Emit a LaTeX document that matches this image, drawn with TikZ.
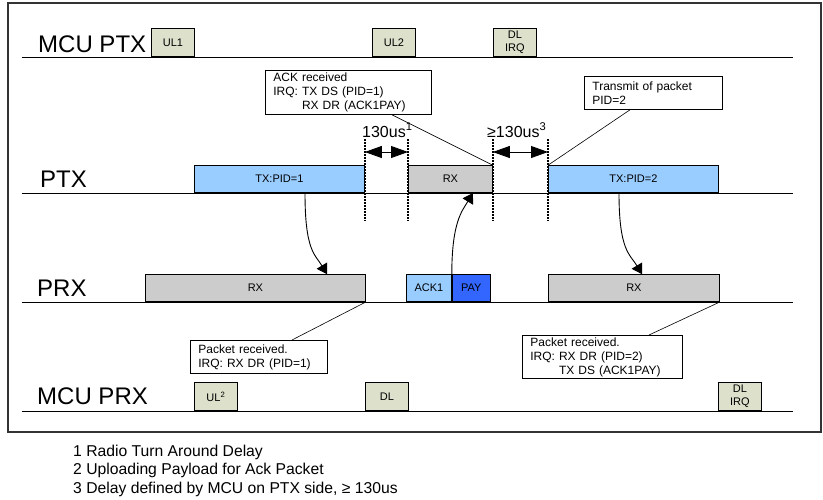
\documentclass[tikz,border=0pt]{standalone}
\usepackage{fontspec}
\setmainfont{Liberation Sans}
\usetikzlibrary{arrows.meta,calc}

\definecolor{mcubg}{RGB}{221,224,203}
\definecolor{txblue}{RGB}{153,204,255}
\definecolor{rxgray}{RGB}{204,204,204}
\definecolor{paybg}{RGB}{51,102,255}

\begin{document}
\begin{tikzpicture}[x=1pt, y=-1pt,
    every node/.style={font=\fontsize{11}{13}\selectfont},
    % Lane names on the left
    lanelabel/.style={font=\fontsize{24}{28}\selectfont, anchor=base west, inner sep=0pt},
    % Time axis of a lane
    lane/.style={line width=0.9pt},
    % Activity slot sitting on a lane
    slot/.style={draw, line width=0.8pt, anchor=south west, inner sep=0pt,
        minimum height=27pt, align=center},
    mcu/.style={slot, fill=mcubg, minimum width=43pt, minimum height=28pt},
    % Callout boxes
    callout/.style={draw, line width=0.8pt, fill=white, anchor=north west, align=left,
        inner xsep=8pt, inner ysep=0pt, font=\fontsize{12}{14}\selectfont},
    leader/.style={line width=0.6pt},
    % Dotted time markers and delay spans
    guide/.style={line width=2.2pt, dash pattern=on 2pt off 1pt},
    span/.style={{Triangle[length=17pt,width=12pt]}-{Triangle[length=17pt,width=12pt]}, line width=0.8pt},
    delay/.style={font=\fontsize{16}{18}\selectfont, anchor=base west, inner sep=0pt},
    % Radio packet flow
    flow/.style={-{Triangle[length=10pt,width=12pt]}, line width=0.9pt},
    note/.style={font=\fontsize{15.7}{18}\selectfont, anchor=base west, inner sep=0pt},
]
\useasboundingbox (0,0) rectangle (823,499);

% outer frame
\draw[line width=1.3pt, black!80] (8,3) rectangle (821,432);

% ============================================================
% MCU PTX
% ============================================================
\node[lanelabel] (lmcuptx) at (38,52) {MCU PTX};
\draw[lane] (22,57) -- (793,57);
\node[mcu] (ul1) at (151,57) {UL1};
\node[mcu] (ul2) at (372,57) {UL2};
\node[mcu] (dlirqt) at (493,57) {DL\\IRQ};

% ============================================================
% PTX
% ============================================================
\node[lanelabel] (lptx) at (40,187) {PTX};
\draw[lane] (22,193) -- (793,193);
\node[slot, fill=txblue, minimum width=170pt] (txa) at (194,193) {TX:PID=1};
\node[slot, fill=rxgray, minimum width=84pt] (rxt) at (408,193) {RX};
\node[slot, fill=txblue, minimum width=170pt] (txb) at (548,193) {TX:PID=2};

% ============================================================
% PRX
% ============================================================
\node[lanelabel] (lprx) at (37,296) {PRX};
\draw[lane] (22,302) -- (793,302);
\node[slot, fill=rxgray, minimum width=220pt] (rxa) at (145,302) {RX};
\node[slot, fill=txblue, minimum width=45pt] (ack) at (406,302) {ACK1};
\node[slot, fill=paybg, minimum width=38pt] (pay) at (ack.south east) {PAY};
\node[slot, fill=rxgray, minimum width=171pt] (rxb) at (548,302) {RX};

% ============================================================
% MCU PRX
% ============================================================
\node[lanelabel] (lmcuprx) at (37,404) {MCU PRX};
\draw[lane] (22,411) -- (793,411);
\node[mcu] (ulr) at (194,411) {UL\textsuperscript{2}};
\node[mcu] (dlr) at (365,411) {DL};
\node[mcu] (dlirqr) at (718,411) {DL\\IRQ};

% ============================================================
% Time markers and delays
% ============================================================
\foreach \g in {txa.south east, rxt.south west, rxt.south east, txb.south west}
    \draw[guide] (\g |- 0,139) -- (\g |- 0,221);

\coordinate (s1a) at (txa.south east |- 0,152);
\coordinate (s1b) at (rxt.south west |- 0,152);
\coordinate (s3a) at (rxt.south east |- 0,152);
\coordinate (s3b) at (txb.south west |- 0,152);
\draw[span] (s1a) -- (s1b);
\draw[span] (s3a) -- (s3b);

\node[delay] (d1) at (362,137) {130us\textsuperscript{1}};
\node[delay] (d3) at (487,137) {≥130us\textsuperscript{3}};

% ============================================================
% Callouts
% ============================================================
\node[callout, text width=150pt, minimum height=44pt] (cack) at (265,70)
    {ACK received\\IRQ: TX DS (PID=1)\\\phantom{IRQ: }RX DR (ACK1PAY)};
\node[callout, text width=122pt, minimum height=33pt] (ctx) at (584,76)
    {Transmit of packet\\PID=2};
\node[callout, text width=121pt, minimum height=33pt] (crx1) at (190,340)
    {Packet received.\\IRQ: RX DR (PID=1)};
\node[callout, text width=144pt, minimum height=43pt] (crx2) at (522,335)
    {Packet received.\\IRQ: RX DR (PID=2)\\\phantom{IRQ: }TX DS (ACK1PAY)};

\draw[leader] ([xshift=127pt]cack.south west) -- (rxt.north east);
\draw[leader] ([xshift=46pt]ctx.south west) -- (txb.north west);
\draw[leader] ([xshift=102pt]crx1.north west) -- (rxa.south east);
\draw[leader] ([xshift=127pt]crx2.north west) -- (rxb.south east);

% ============================================================
% Packets over the air
% ============================================================
\draw[flow] ([xshift=111pt]txa.south west) .. controls +(0,58) and +(-12,-20) .. ([xshift=182pt]rxa.north west);
\draw[flow] (ack.north east) .. controls +(0,-52) and +(-11,18) .. ([xshift=65pt]rxt.south west);
\draw[flow] ([xshift=71pt]txb.south west) .. controls +(0,58) and +(-12,-20) .. ([xshift=94pt]rxb.north west);

% ============================================================
% Footnotes
% ============================================================
\node[note] (fn1) at (73,456) {1 Radio Turn Around Delay};
\node[note] (fn2) at (73,474.5) {2 Uploading Payload for Ack Packet};
\node[note] (fn3) at (73,493) {3 Delay defined by MCU on PTX side, ≥ 130us};

\end{tikzpicture}
\end{document}
